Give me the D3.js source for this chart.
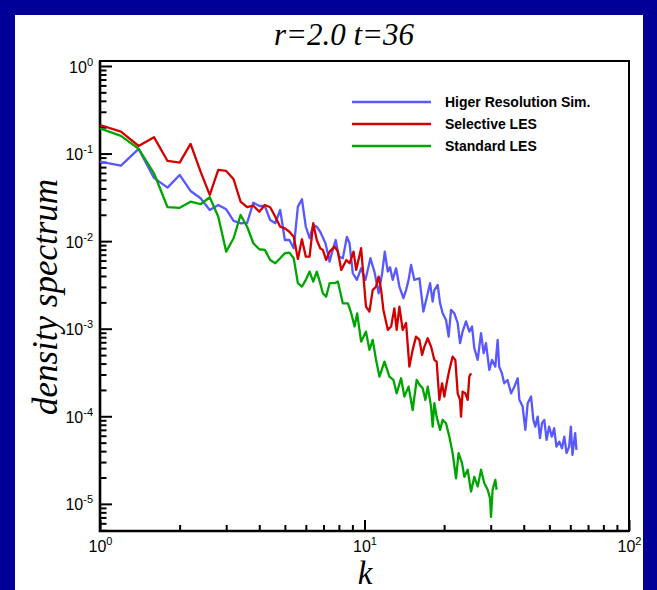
<!DOCTYPE html>
<html>
<head>
<meta charset="utf-8">
<script src="https://cdn.jsdelivr.net/npm/d3@7/dist/d3.min.js"></script>
<style>
  body { margin: 0; background: #000099; }
  svg { display: block; }
</style>
</head>
<body>
<svg id="chart" width="657" height="590"></svg>
<script>
// [k, spectrum]
var higherRes = [
  [1,0.0808],[1.2,0.0727],[1.4,0.113],[1.6,0.0527],[1.8,0.0408],[2,0.057],[2.2,0.0374],[2.4,0.0309],
  [2.6,0.0227],[2.8,0.0259],[3,0.0231],[3.2,0.017],[3.4,0.016],[3.6,0.0162],[3.8,0.0275],[4,0.0252],
  [4.2,0.0252],[4.4,0.0174],[4.6,0.016],[4.8,0.0227],[5,0.0103],[5.2,0.0103],[5.4,0.0083],[5.6,0.0248],
  [5.8,0.0301],[6,0.0146],[6.2,0.0108],[6.4,0.0153],[6.6,0.0146],[6.8,0.0128],
  [7.12,0.00946],[7.38,0.00583],[7.55,0.00759],[7.78,0.0103],[8.0,0.00665],[8.28,0.00638],[8.58,0.0112],
  [8.78,0.00946],[9.03,0.0043],[9.36,0.00361],[9.71,0.0049],[10.08,0.00361],[10.53,0.00638],[10.9,0.00449],
  [11.31,0.00254],[11.66,0.0043],[11.93,0.00759],[12.25,0.00449],[12.49,0.00504],[12.78,0.00361],
  [13.16,0.0049],[13.55,0.00303],[14.03,0.00223],[14.36,0.00276],[14.68,0.00361],[15.0,0.00535],
  [15.44,0.00361],[16.13,0.00377],[16.7,0.00157],[17.34,0.00254],[17.7,0.00331],[18.1,0.00204],
  [18.37,0.00276],[18.91,0.00316],[19.31,0.00195],[19.75,0.0015],[20.33,0.00126],[20.8,8.12e-4],
  [21.24,0.00164],[21.86,0.0015],[22.51,0.00116],[22.97,6.83e-4],[23.49,9.27e-4],[24.19,0.00121],
  [24.91,9.27e-4],[25.5,0.00106],[26.02,5.98e-4],[26.79,4.4e-4],[27.58,8.9e-4],[28.21,5.25e-4],
  [28.79,6.83e-4],[29.64,3.38e-4],[30.34,4.4e-4],[31.23,3.69e-4],[31.87,7.45e-4],[32.3,3.69e-4],
  [33.07,3.1e-4],[33.74,2.38e-4],[34.73,2.6e-4],[35.83,1.83e-4],[36.87,2.18e-4],[37.96,2.72e-4],
  [38.5,1.54e-4],[39.62,1.29e-4],[40.56,6.99e-5],[41.4,1.41e-4],[42.63,1.68e-4],[43.49,9.1e-5],
  [44.25,7.63e-5],[45.16,9.92e-5],[46.07,5.62e-5],[46.89,8.34e-5],[47.84,9.1e-5],[48.8,5.38e-5],
  [49.9,7.63e-5],[51.08,5.86e-5],[52.12,7.31e-5],[53.17,4.51e-5],[54.5,5.14e-5],[55.79,4.32e-5],
  [56.93,5.86e-5],[58.08,3.79e-5],[59.4,4.51e-5],[60.29,7.63e-5],[61.12,3.62e-5],[62.58,6.41e-5],
  [63.3,4.13e-5]
];

var selectiveLes = [
  [1,0.212],[1.2,0.178],[1.4,0.122],[1.6,0.154],[1.8,0.0823],[2,0.0788],[2.2,0.129],[2.4,0.0621],
  [2.6,0.0337],[2.8,0.065],[3,0.0633],[3.2,0.0509],[3.4,0.0282],[3.6,0.0244],[3.8,0.0254],[4,0.0217],
  [4.2,0.0259],[4.4,0.0244],[4.6,0.019],[4.8,0.0146],[5,0.014],[5.2,0.0128],[5.4,0.0112],[5.6,0.00626],
  [5.8,0.0105],[6,0.00665],[6.2,0.00665],[6.4,0.016],[6.6,0.0103],[6.8,0.0083],
  [6.96,0.00794],[7.16,0.0061],[7.38,0.00759],[7.71,0.00866],[7.93,0.00759],[8.17,0.00469],[8.54,0.0061],
  [8.78,0.00559],[9.09,0.00759],[9.30,0.00469],[9.71,0.0083],[10.13,0.00179],[10.44,0.00157],
  [10.74,0.00276],[11.06,0.00303],[11.31,0.00394],[11.56,0.00276],[11.79,0.00164],[12.25,0.00097],
  [12.61,0.00106],[12.97,0.00171],[13.23,0.00097],[13.55,0.00179],[13.94,0.00097],[14.36,0.00116],
  [14.78,3.69e-4],[15.21,5.73e-4],[15.66,8.12e-4],[16.13,7.45e-4],[16.51,5.02e-4],[16.85,6.25e-4],
  [17.34,7.79e-4],[17.85,6.25e-4],[18.37,4.4e-4],[18.74,4.21e-4],[19.19,1.54e-4],[19.64,2.38e-4],
  [20.04,1.68e-4],[20.45,2.38e-4],[20.93,3.38e-4],[21.54,4.8e-4],[22.05,4.4e-4],[22.51,1.83e-4],
  [22.97,1.54e-4],[23.17,0.99e-4],[23.49,1.91e-4],[24.05,1.83e-4],[24.55,1.54e-4],[24.91,2.84e-4],
  [25.28,3.1e-4]
];

var standardLes = [
  [1,0.194],[1.2,0.159],[1.4,0.113],[1.6,0.0596],[1.8,0.0244],[2,0.024],[2.2,0.0282],[2.4,0.0264],
  [2.6,0.0317],[2.8,0.019],[3,0.00759],[3.2,0.0108],[3.4,0.0199],[3.6,0.0146],[3.8,0.00946],[4,0.00808],
  [4.2,0.00794],[4.4,0.0061],[4.6,0.00559],[4.8,0.00638],[5,0.00727],[5.2,0.00739],[5.4,0.00638],
  [5.6,0.00331],[5.8,0.00303],[6,0.00361],[6.2,0.00449],[6.4,0.00345],[6.6,0.00449],[6.8,0.00331],
  [6.96,0.00254],[7.16,0.00232],[7.38,0.00331],[7.71,0.00331],[7.93,0.00345],[8.28,0.00195],[8.66,0.00195],
  [8.91,0.0015],[9.17,0.00106],[9.38,0.0015],[9.71,7.12e-4],[10.13,9.27e-4],[10.44,5.73e-4],[10.74,7.45e-4],
  [11.06,4.4e-4],[11.39,2.84e-4],[11.9,4.21e-4],[12.42,2.84e-4],[12.86,2.6e-4],[13.23,1.83e-4],
  [13.75,2.72e-4],[14.15,1.68e-4],[14.68,2.18e-4],[15.21,1.18e-4],[15.75,2.6e-4],[16.13,2.3e-4],
  [16.6,2.09e-4],[16.99,1.54e-4],[17.34,2.18e-4],[17.85,1.29e-4],[18.1,7.63e-5],[18.37,1.41e-4],
  [18.74,9.92e-5],[19.31,6.99e-5],[19.75,9.1e-5],[20.33,8.34e-5],[20.93,5.86e-5],[21.54,3.79e-5],
  [22.18,1.96e-5],[22.68,3.79e-5],[23.37,2.92e-5],[23.85,2.04e-5],[24.55,2.45e-5],[25.28,1.38e-5],
  [26.02,2.04e-5],[26.79,1.58e-5],[27.58,2.45e-5],[28.38,1.72e-5],[29.22,1.45e-5],[29.82,1.16e-5],
  [30.08,7.1e-6],[30.5,1.45e-5],[31.23,1.88e-5],[31.58,1.45e-5]
];

var seriesNames = ["Higer Resolution Sim.", "Selective LES", "Standard LES"];
var seriesColors = ["#5858ff", "#d40000", "#00a600"];
var kDomain = [1, 100];
var spectrumDomain = [4.9e-6, 1.14];

var svg = d3.select("#chart");

// white sheet on the blue slide
svg.append("rect")
    .attr("x", 15).attr("y", 15)
    .attr("width", 628).attr("height", 575)
    .attr("fill", "#fff");

var plotLeft = 100, plotRight = 629, plotTop = 61, plotBottom = 531;

var x = d3.scaleLog().domain(kDomain).range([plotLeft, plotRight]);
var y = d3.scaleLog().domain(spectrumDomain).range([plotBottom, plotTop]);

function isMajor(d) {
    var e = Math.log10(d);
    return Math.abs(e - Math.round(e)) < 1e-6;
}

// "10" with a raised exponent
function powerLabel(sel) {
    sel.each(function(d) {
        var t = d3.select(this);
        t.text(null);
        if (!isMajor(d)) return;
        t.append("tspan").text("10");
        t.append("tspan").attr("dy", -7).attr("font-size", 11).text(Math.round(Math.log10(d)));
    });
}

var gy = svg.append("g")
    .attr("transform", "translate(" + plotLeft + ",0)")
    .call(d3.axisLeft(y).tickSizeInner(-12).tickSizeOuter(0).tickPadding(7));
gy.select(".domain").remove();
gy.selectAll(".tick line")
    .attr("x2", function(d) { return isMajor(d) ? 12 : 6.5; })
    .attr("stroke", "#000").attr("stroke-width", 2);
gy.selectAll(".tick text")
    .attr("font-family", "Arial, 'Liberation Sans', sans-serif")
    .attr("font-size", 16).attr("fill", "#000")
    .attr("dy", "0.38em")
    .call(powerLabel);

var gx = svg.append("g")
    .attr("transform", "translate(0," + plotBottom + ")")
    .call(d3.axisBottom(x).tickSizeInner(-11).tickSizeOuter(0).tickPadding(5));
gx.select(".domain").remove();
gx.selectAll(".tick line")
    .attr("y2", function(d) { return isMajor(d) ? -11 : -6; })
    .attr("stroke", "#000").attr("stroke-width", 2);
gx.selectAll(".tick text")
    .attr("font-family", "Arial, 'Liberation Sans', sans-serif")
    .attr("font-size", 16).attr("fill", "#000")
    .attr("dy", "1em")
    .call(powerLabel);

// frame
svg.append("rect")
    .attr("x", plotLeft).attr("y", plotTop)
    .attr("width", plotRight - plotLeft).attr("height", plotBottom - plotTop)
    .attr("fill", "none").attr("stroke", "#000").attr("stroke-width", 2);
svg.append("path")
    .attr("d", "M" + plotLeft + "," + plotTop + "V" + plotBottom + "H" + plotRight)
    .attr("fill", "none").attr("stroke", "#000").attr("stroke-width", 2.6);

var line = d3.line()
    .x(function(d) { return x(d[0]); })
    .y(function(d) { return y(d[1]); });

var allSeries = [higherRes, selectiveLes, standardLes];
svg.append("g").selectAll("path")
    .data(allSeries)
    .enter().append("path")
    .attr("d", line)
    .attr("fill", "none")
    .attr("stroke", function(d, i) { return seriesColors[i]; })
    .attr("stroke-width", 2.3)
    .attr("stroke-linejoin", "round");

// legend
var legend = svg.append("g").selectAll("g")
    .data(seriesNames)
    .enter().append("g")
    .attr("transform", function(d, i) { return "translate(352," + (102 + i * 22) + ")"; });
legend.append("line")
    .attr("x1", 0).attr("x2", 79)
    .attr("stroke", function(d, i) { return seriesColors[i]; })
    .attr("stroke-width", 2.3);
legend.append("text")
    .attr("x", 93).attr("y", 5)
    .attr("font-family", "Arial, 'Liberation Sans', sans-serif")
    .attr("font-weight", "bold").attr("font-size", 14)
    .text(function(d) { return d; });

// titles
svg.append("text")
    .attr("x", 344).attr("y", 45)
    .attr("text-anchor", "middle")
    .attr("font-family", "'Liberation Serif', 'Times New Roman', serif")
    .attr("font-style", "italic").attr("font-size", 31)
    .text("r=2.0 t=36");

svg.append("text")
    .attr("transform", "translate(57,297) rotate(-90)")
    .attr("text-anchor", "middle")
    .attr("font-family", "'Liberation Serif', 'Times New Roman', serif")
    .attr("font-style", "italic").attr("font-size", 35)
    .text("density spectrum");

svg.append("text")
    .attr("x", 365).attr("y", 584)
    .attr("text-anchor", "middle")
    .attr("font-family", "'Liberation Serif', 'Times New Roman', serif")
    .attr("font-style", "italic").attr("font-size", 33)
    .text("k");
</script>
</body>
</html>
